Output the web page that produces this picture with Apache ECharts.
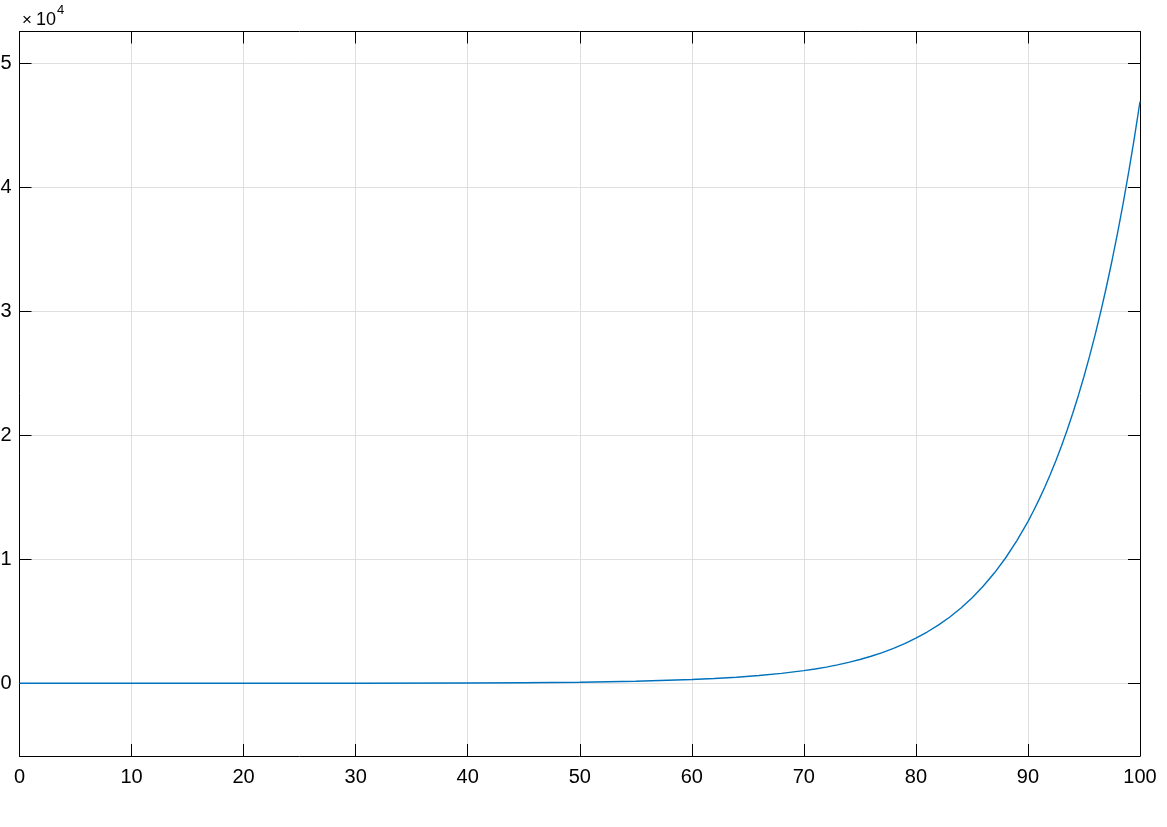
<!DOCTYPE html>
<html>
<head>
<meta charset="utf-8">
<script src="https://cdn.jsdelivr.net/npm/echarts@6/dist/echarts.min.js"></script>
<style>
html,body{margin:0;padding:0;background:#fff;}
#c{width:1167px;height:827px;}
</style>
</head>
<body>
<div id="c"></div>
<script>
const xValues = [0,10,20,30,40,45,50,55,60,62,64,66,68,70,71,72,73,74,75,76,77,78,79,80,81,82,83,84,85,86,87,88,89,90,90.5,91,91.5,92,92.5,93,93.5,94,94.5,95,95.5,96,96.5,97,97.5,98,98.5,99,99.5,100];
const yValues = [0,1,2,6,22,42,80,160,300,385,490,625,800,1020,1150,1305,1480,1685,1915,2180,2475,2810,3195,3640,4135,4690,5330,6060,6885,7830,8895,10110,11490,13050,13920,14840,15820,16870,17980,19170,20440,21790,23230,24760,26400,28140,30000,31980,34100,36350,38750,41310,44040,46950];
const xTicks = [0,10,20,30,40,50,60,70,80,90,100];
const yTicks = [0,10000,20000,30000,40000,50000];
const yExponentTimes = '×';
const yExponentBase = '10';
const yExponentPower = '4';

const FONT = '"Liberation Sans", Arial, Helvetica, sans-serif';
const chart = echarts.init(document.getElementById('c'), null, {renderer:'canvas'});
const seriesData = xValues.map((x,i)=>[x,yValues[i]]);
const YMIN = -5870, YMAX = 52600;

function xAxisDef(pos, show){
  return {
    type:'value', position:pos, min:0, max:100, interval:10,
    axisLine:{show:true, onZero:false, lineStyle:{color:'#000', width:1}},
    axisTick:{show:true, inside:true, length:12, lineStyle:{color:'#000', width:1}},
    axisLabel:{show:show, margin:11, color:'#000', fontSize:20, fontFamily:FONT},
    splitLine:{show:show, lineStyle:{color:'#dfdfdf', width:1}}
  };
}
function yAxisDef(pos, show){
  return {
    type:'value', position:pos, min:YMIN, max:YMAX,
    axisLine:{show:true, onZero:false, lineStyle:{color:'#000', width:1}},
    axisTick:{show:true, inside:true, length:12, customValues:yTicks, lineStyle:{color:'#000', width:1}},
    axisLabel:{show:show, margin:8, color:'#000', fontSize:20, fontFamily:FONT, customValues:yTicks,
      formatter:function(v){return String(Math.round(v/10000));}},
    splitLine:{show:show, lineStyle:{color:'#dfdfdf', width:1}}
  };
}

chart.setOption({
  animation:false,
  backgroundColor:'#fff',
  grid:{left:19.5, right:27, top:31.5, bottom:71, containLabel:false, outerBoundsMode:'none'},
  xAxis:[xAxisDef('bottom', true), xAxisDef('top', false)],
  yAxis:[yAxisDef('left', true), yAxisDef('right', false)],
  graphic:[
    {type:'text', left:22, top:12, style:{text:yExponentTimes, fontSize:17, fontFamily:FONT, fill:'#000'}},
    {type:'text', left:36, top:11, style:{text:yExponentBase, fontSize:18, fontFamily:FONT, fill:'#000'}},
    {type:'text', left:57, top:4, style:{text:yExponentPower, fontSize:13, fontFamily:FONT, fill:'#000'}}
  ],
  series:[{
    type:'line', xAxisIndex:0, yAxisIndex:0, data:seriesData,
    showSymbol:false, smooth:false, clip:true,
    lineStyle:{color:'#0072bd', width:1.4}
  }]
});
</script>
</body>
</html>
